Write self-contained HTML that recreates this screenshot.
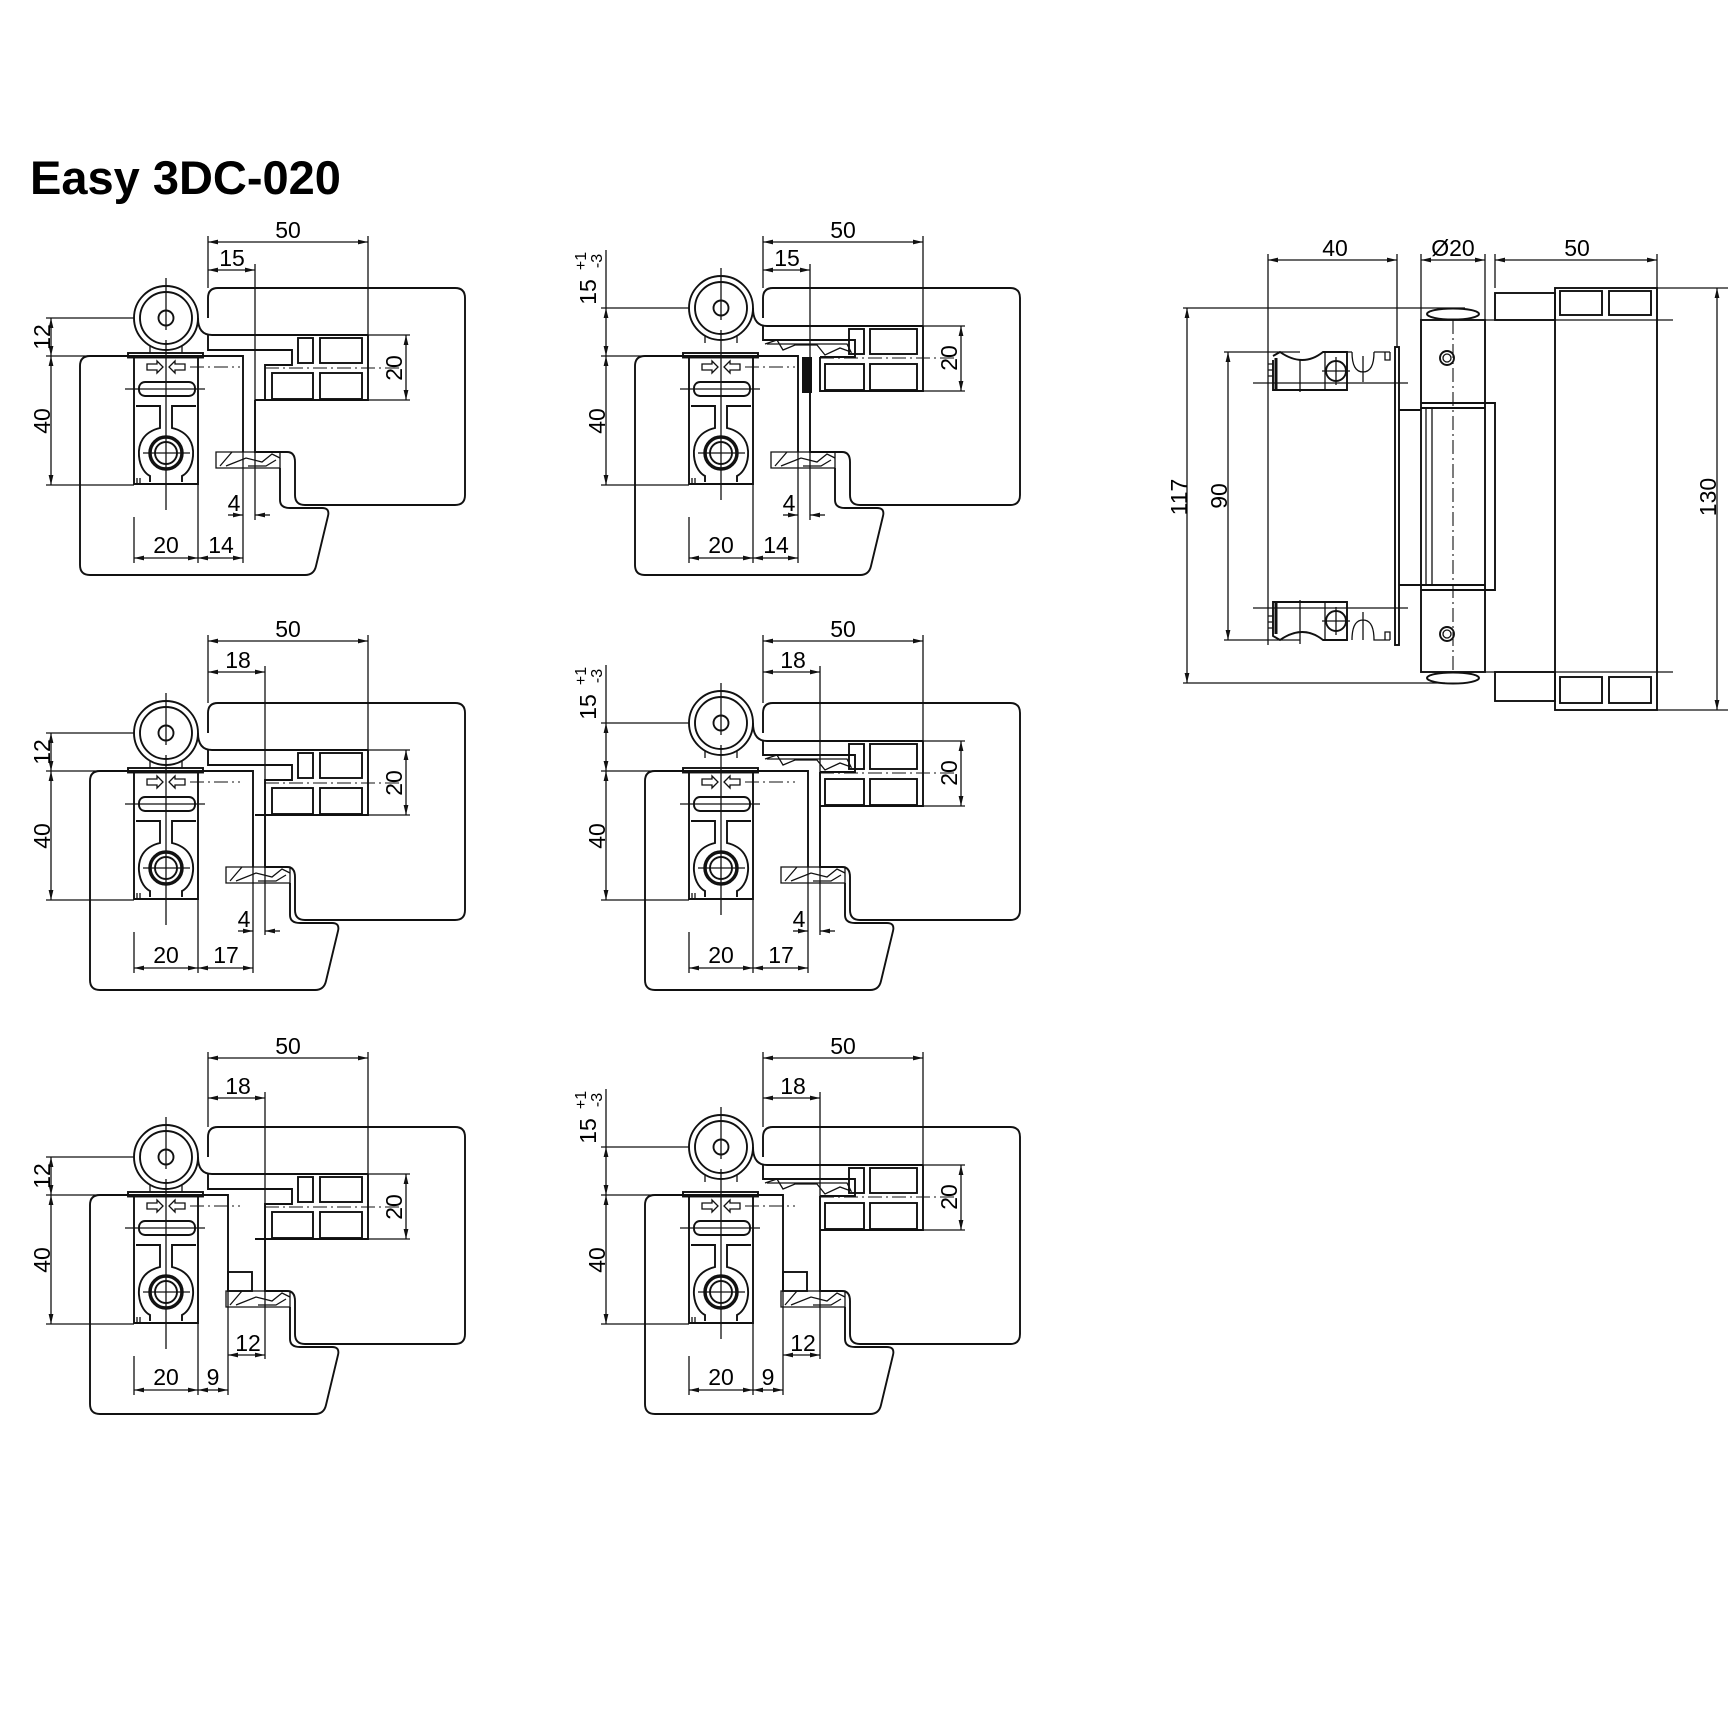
<!DOCTYPE html>
<html><head><meta charset="utf-8"><style>
html,body{margin:0;padding:0;background:#fff}
svg{display:block}
text{font-family:"Liberation Sans",Arial,sans-serif;fill:#000}
.o{fill:none;stroke:#111;stroke-width:1.9}
.t{fill:none;stroke:#111;stroke-width:1.3}
.d{fill:none;stroke:#111;stroke-width:1.3;marker-start:url(#ar);marker-end:url(#ar)}
.cl{fill:none;stroke:#111;stroke-width:1.1;stroke-dasharray:14 4 2 4}
.n{font-size:23px;text-anchor:middle}
.s{font-size:16px;text-anchor:middle}
</style></head><body>
<svg width="1733" height="1732" viewBox="0 0 1733 1732" xmlns="http://www.w3.org/2000/svg">
<defs>
<marker id="ar" viewBox="0 0 10 6" refX="10" refY="3" markerWidth="10" markerHeight="6" orient="auto-start-reverse" markerUnits="userSpaceOnUse"><path d="M0,0.6 L10,3 L0,5.4 Z" fill="#111"/></marker>
<g id="hb">
<rect x="128" y="353" width="75" height="4.5" class="o"/>
<path d="M134,358 L134,484 L198,484 L198,358" class="o"/>
<path d="M147,364 L157,364 L157,361 L163,367 L157,373 L157,370 L147,370 Z" class="t"/>
<path d="M185,364 L175,364 L175,361 L169,367 L175,373 L175,370 L185,370 Z" class="t"/>
<rect x="139" y="382" width="56" height="14" rx="6" class="o"/>
<path d="M136,406 L160,406 L160,428 C143,432 138,444 139,456 C140,468 146,474 150,476 L150,482" class="o"/>
<path d="M196,406 L172,406 L172,428 C189,432 194,444 193,456 C192,468 186,474 182,476 L182,482" class="o"/>
<circle cx="166" cy="453" r="16" fill="none" stroke="#111" stroke-width="3.5"/>
<circle cx="166" cy="453" r="11" class="o"/>
<path d="M137,478 L137,484 M140,478 L140,484" class="t"/>
<path d="M143,453 L190,453 M125,389 L205,389" class="t"/>
<path d="M190,367 L240,367" class="cl"/>
</g>
<g id="circ">
<circle cx="166" cy="318" r="32" class="o"/>
<circle cx="166" cy="318" r="26" class="o"/>
<circle cx="166" cy="318" r="7.5" class="o"/>
<path d="M150,346 L150,353 M182,346 L182,353" class="t"/>
<path d="M166,278 L166,330 M166,340 L166,510" class="t"/>
</g>
<g id="prof1">
<path d="M208,335 L208,350 L292,350 L292,365 L265,365 L265,400" class="o"/>
<path d="M255,400 L368,400 L368,335" class="o"/>
<rect x="298" y="338" width="15" height="25" class="o"/>
<rect x="320" y="338" width="42" height="25" class="o"/>
<rect x="272" y="373" width="41" height="26" class="o"/>
<rect x="320" y="373" width="42" height="26" class="o"/>
<path d="M265,368 L400,368" class="cl"/>
<path d="M198,318 Q198,335 212,335 L368,335" class="o"/>
<path d="M368,335 L410,335 M368,400 L410,400" class="t"/>
<path d="M406,335 L406,400" class="d"/>
</g>
<g id="prof2">
<path d="M208,326 L208,340 L300,340 L300,357 L265,357" class="o"/>
<path d="M210,344 L222,340 L228,350 L240,345 L262,345 L270,355 L285,348 L296,352 L292,344 L212,344" class="t"/>
<path d="M265,357 L265,391 L368,391 L368,326" class="o"/>
<rect x="294" y="329" width="15" height="25" class="o"/>
<rect x="315" y="329" width="47" height="25" class="o"/>
<rect x="270" y="364" width="39" height="26" class="o"/>
<rect x="315" y="364" width="47" height="26" class="o"/>
<path d="M265,358 L400,358" class="cl"/>
<path d="M198,308 Q198,326 212,326 L368,326" class="o"/>
<path d="M368,326 L410,326 M368,391 L410,391" class="t"/>
<path d="M406,326 L406,391" class="d"/>
</g>
<g id="frame">
<path d="M208,318 L208,298 Q208,288 218,288 L455,288 Q465,288 465,298 L465,495 Q465,505 455,505 L305,505 Q295,505 295,495 L295,462 Q295,452 287,452" class="o"/>
</g>
</defs>

<text x="30" y="194" style="font-size:47px;font-weight:bold">Easy 3DC-020</text>

<g>
<use href="#frame"/>
<path d="M287,452 L255,452 L255,400" class="o"/>
<use href="#prof1"/>
<use href="#circ"/>
<path d="M90,356 L243,356 L243,452 M280,468 L280,500 Q280,508 290,508 L322,508 Q330,508 328,516 L316,566 Q314,575 305,575 L90,575 Q80,575 80,565 L80,366 Q80,356 90,356" class="o"/>
<use href="#hb"/>
<path d="M216,452 L280,452 L280,468 L216,468 Z" class="t"/>
<path d="M220,466 L232,452 M226,466 L246,458 L262,462 L272,454 L280,458 M248,466 L266,466 L276,460" class="t"/>
<path d="M208,236 L208,288 M368,236 L368,335 M255,264 L255,520" class="t"/>
<path d="M208,242 L368,242" class="d"/><text class="n" x="288" y="238">50</text>
<path d="M208,270 L255,270" class="d"/><text class="n" x="232" y="266">15</text>
<text class="n" transform="translate(402,368) rotate(-90)">20</text>
<path d="M46,318 L134,318 M46,356 L128,356 M46,485 L134,485" class="t"/>
<path d="M51,318 L51,356" class="d"/><text class="n" transform="translate(50,337) rotate(-90)">12</text>
<path d="M51,356 L51,485" class="d"/><text class="n" transform="translate(50,421) rotate(-90)">40</text>
<path d="M134,517 L134,563 M198,484 L198,563 M243,452 L243,563" class="t"/>
<path d="M134,558 L198,558" class="d"/><path d="M198,558 L243,558" class="d"/>
<text class="n" x="166" y="553">20</text><text class="n" x="221" y="553">14</text>
<path d="M228,515 L243,515" class="t" marker-end="url(#ar)"/><path d="M270,515 L255,515" class="t" marker-end="url(#ar)"/>
<text class="n" x="234" y="511">4</text>
</g>

<g transform="translate(555,0)">
<use href="#frame"/>
<path d="M287,452 L255,452 L255,392" class="o"/>
<use href="#prof2"/>
<use href="#circ" transform="translate(0,-10)"/>
<rect x="247" y="357" width="10" height="36" fill="#111"/>
<path d="M90,356 L243,356 L243,452 M280,468 L280,500 Q280,508 290,508 L322,508 Q330,508 328,516 L316,566 Q314,575 305,575 L90,575 Q80,575 80,565 L80,366 Q80,356 90,356" class="o"/>
<use href="#hb"/>
<path d="M216,452 L280,452 L280,468 L216,468 Z" class="t"/>
<path d="M220,466 L232,452 M226,466 L246,458 L262,462 L272,454 L280,458 M248,466 L266,466 L276,460" class="t"/>
<path d="M208,236 L208,288 M368,236 L368,326 M255,264 L255,520" class="t"/>
<path d="M208,242 L368,242" class="d"/><text class="n" x="288" y="238">50</text>
<path d="M208,270 L255,270" class="d"/><text class="n" x="232" y="266">15</text>
<text class="n" transform="translate(402,358) rotate(-90)">20</text>
<path d="M46,308 L134,308 M46,356 L128,356 M46,485 L134,485 M51,250 L51,308" class="t"/>
<path d="M51,308 L51,356" class="d"/>
<text class="n" transform="translate(41,292) rotate(-90)">15</text>
<text class="s" transform="translate(31,261) rotate(-90)">+1</text>
<text class="s" transform="translate(47,261) rotate(-90)">-3</text>
<path d="M51,356 L51,485" class="d"/><text class="n" transform="translate(50,421) rotate(-90)">40</text>
<path d="M134,517 L134,563 M198,484 L198,563 M243,452 L243,563" class="t"/>
<path d="M134,558 L198,558" class="d"/><path d="M198,558 L243,558" class="d"/>
<text class="n" x="166" y="553">20</text><text class="n" x="221" y="553">14</text>
<path d="M228,515 L243,515" class="t" marker-end="url(#ar)"/><path d="M270,515 L255,515" class="t" marker-end="url(#ar)"/>
<text class="n" x="234" y="511">4</text>
</g>

<g transform="translate(0,415)">
<use href="#frame"/>
<path d="M287,452 L265,452 L265,400" class="o"/>
<use href="#prof1"/>
<use href="#circ"/>
<path d="M100,356 L253,356 L253,452 M290,468 L290,500 Q290,508 300,508 L332,508 Q340,508 338,516 L326,566 Q324,575 315,575 L100,575 Q90,575 90,565 L90,366 Q90,356 100,356" class="o"/>
<use href="#hb"/>
<path d="M226,452 L290,452 L290,468 L226,468 Z" class="t"/>
<path d="M230,466 L242,452 M236,466 L256,458 L272,462 L282,454 L290,458 M258,466 L276,466 L286,460" class="t"/>
<path d="M208,220 L208,288 M368,220 L368,335 M265,251 L265,520" class="t"/>
<path d="M208,226 L368,226" class="d"/><text class="n" x="288" y="222">50</text>
<path d="M208,257 L265,257" class="d"/><text class="n" x="238" y="253">18</text>
<text class="n" transform="translate(402,368) rotate(-90)">20</text>
<path d="M46,318 L134,318 M46,356 L128,356 M46,485 L134,485" class="t"/>
<path d="M51,318 L51,356" class="d"/><text class="n" transform="translate(50,337) rotate(-90)">12</text>
<path d="M51,356 L51,485" class="d"/><text class="n" transform="translate(50,421) rotate(-90)">40</text>
<path d="M134,517 L134,558 M198,484 L198,558 M253,452 L253,558" class="t"/>
<path d="M134,553 L198,553" class="d"/><path d="M198,553 L253,553" class="d"/>
<text class="n" x="166" y="548">20</text><text class="n" x="226" y="548">17</text>
<path d="M238,516 L253,516" class="t" marker-end="url(#ar)"/><path d="M280,516 L265,516" class="t" marker-end="url(#ar)"/>
<text class="n" x="244" y="512">4</text>
</g>

<g transform="translate(555,415)">
<use href="#frame"/>
<path d="M287,452 L265,452 L265,392" class="o"/>
<use href="#prof2"/>
<use href="#circ" transform="translate(0,-10)"/>
<path d="M100,356 L253,356 L253,452 M290,468 L290,500 Q290,508 300,508 L332,508 Q340,508 338,516 L326,566 Q324,575 315,575 L100,575 Q90,575 90,565 L90,366 Q90,356 100,356" class="o"/>
<use href="#hb"/>
<path d="M226,452 L290,452 L290,468 L226,468 Z" class="t"/>
<path d="M230,466 L242,452 M236,466 L256,458 L272,462 L282,454 L290,458 M258,466 L276,466 L286,460" class="t"/>
<path d="M208,220 L208,288 M368,220 L368,326 M265,251 L265,520" class="t"/>
<path d="M208,226 L368,226" class="d"/><text class="n" x="288" y="222">50</text>
<path d="M208,257 L265,257" class="d"/><text class="n" x="238" y="253">18</text>
<text class="n" transform="translate(402,358) rotate(-90)">20</text>
<path d="M46,308 L134,308 M46,356 L128,356 M46,485 L134,485 M51,250 L51,308" class="t"/>
<path d="M51,308 L51,356" class="d"/>
<text class="n" transform="translate(41,292) rotate(-90)">15</text>
<text class="s" transform="translate(31,261) rotate(-90)">+1</text>
<text class="s" transform="translate(47,261) rotate(-90)">-3</text>
<path d="M51,356 L51,485" class="d"/><text class="n" transform="translate(50,421) rotate(-90)">40</text>
<path d="M134,517 L134,558 M198,484 L198,558 M253,452 L253,558" class="t"/>
<path d="M134,553 L198,553" class="d"/><path d="M198,553 L253,553" class="d"/>
<text class="n" x="166" y="548">20</text><text class="n" x="226" y="548">17</text>
<path d="M238,516 L253,516" class="t" marker-end="url(#ar)"/><path d="M280,516 L265,516" class="t" marker-end="url(#ar)"/>
<text class="n" x="244" y="512">4</text>
</g>

<g transform="translate(0,839)">
<use href="#frame"/>
<path d="M287,452 L265,452 L265,400" class="o"/>
<use href="#prof1"/>
<use href="#circ"/>
<path d="M100,356 L228,356 L228,452 M290,468 L290,500 Q290,508 300,508 L332,508 Q340,508 338,516 L326,566 Q324,575 315,575 L100,575 Q90,575 90,565 L90,366 Q90,356 100,356" class="o"/>
<use href="#hb"/>
<rect x="228" y="433" width="24" height="19" class="o"/>
<path d="M226,452 L290,452 L290,468 L226,468 Z" class="t"/>
<path d="M230,466 L242,452 M236,466 L256,458 L272,462 L282,454 L290,458 M258,466 L276,466 L286,460" class="t"/>
<path d="M208,213 L208,288 M368,213 L368,335 M265,253 L265,520" class="t"/>
<path d="M208,219 L368,219" class="d"/><text class="n" x="288" y="215">50</text>
<path d="M208,259 L265,259" class="d"/><text class="n" x="238" y="255">18</text>
<text class="n" transform="translate(402,368) rotate(-90)">20</text>
<path d="M46,318 L134,318 M46,356 L128,356 M46,485 L134,485" class="t"/>
<path d="M51,318 L51,356" class="d"/><text class="n" transform="translate(50,337) rotate(-90)">12</text>
<path d="M51,356 L51,485" class="d"/><text class="n" transform="translate(50,421) rotate(-90)">40</text>
<path d="M134,517 L134,556 M198,484 L198,556 M228,452 L228,556" class="t"/>
<path d="M134,551 L198,551" class="d"/><path d="M198,551 L228,551" class="d"/>
<text class="n" x="166" y="546">20</text><text class="n" x="213" y="546">9</text>
<path d="M228,516 L265,516" class="d"/>
<text class="n" x="248" y="512">12</text>
</g>

<g transform="translate(555,839)">
<use href="#frame"/>
<path d="M287,452 L265,452 L265,392" class="o"/>
<use href="#prof2"/>
<use href="#circ" transform="translate(0,-10)"/>
<path d="M100,356 L228,356 L228,452 M290,468 L290,500 Q290,508 300,508 L332,508 Q340,508 338,516 L326,566 Q324,575 315,575 L100,575 Q90,575 90,565 L90,366 Q90,356 100,356" class="o"/>
<use href="#hb"/>
<rect x="228" y="433" width="24" height="19" class="o"/>
<path d="M226,452 L290,452 L290,468 L226,468 Z" class="t"/>
<path d="M230,466 L242,452 M236,466 L256,458 L272,462 L282,454 L290,458 M258,466 L276,466 L286,460" class="t"/>
<path d="M208,213 L208,288 M368,213 L368,326 M265,253 L265,520" class="t"/>
<path d="M208,219 L368,219" class="d"/><text class="n" x="288" y="215">50</text>
<path d="M208,259 L265,259" class="d"/><text class="n" x="238" y="255">18</text>
<text class="n" transform="translate(402,358) rotate(-90)">20</text>
<path d="M46,308 L134,308 M46,356 L128,356 M46,485 L134,485 M51,250 L51,308" class="t"/>
<path d="M51,308 L51,356" class="d"/>
<text class="n" transform="translate(41,292) rotate(-90)">15</text>
<text class="s" transform="translate(31,261) rotate(-90)">+1</text>
<text class="s" transform="translate(47,261) rotate(-90)">-3</text>
<path d="M51,356 L51,485" class="d"/><text class="n" transform="translate(50,421) rotate(-90)">40</text>
<path d="M134,517 L134,556 M198,484 L198,556 M228,452 L228,556" class="t"/>
<path d="M134,551 L198,551" class="d"/><path d="M198,551 L228,551" class="d"/>
<text class="n" x="166" y="546">20</text><text class="n" x="213" y="546">9</text>
<path d="M228,516 L265,516" class="d"/>
<text class="n" x="248" y="512">12</text>
</g>

<g>
<path d="M1268,254 L1268,645 M1397,254 L1397,347 M1421,254 L1421,320 M1485,254 L1485,320 M1495,254 L1495,288 M1657,254 L1657,288" class="t"/>
<path d="M1268,260 L1397,260" class="d"/><text class="n" x="1335" y="256">40</text>
<path d="M1421,260 L1485,260" class="d"/><text class="n" x="1453" y="256">Ø20</text>
<path d="M1495,260 L1657,260" class="d"/><text class="n" x="1577" y="256">50</text>
<rect x="1495" y="293" width="60" height="27" class="o"/>
<rect x="1555" y="288" width="102" height="422" class="o"/>
<rect x="1560" y="291" width="42" height="24" class="o"/>
<rect x="1609" y="291" width="42" height="24" class="o"/>
<rect x="1560" y="677" width="42" height="26" class="o"/>
<rect x="1609" y="677" width="42" height="26" class="o"/>
<rect x="1495" y="672" width="60" height="29" class="o"/>
<path d="M1657,288 L1728,288 M1657,710 L1728,710 M1485,320 L1673,320 M1485,672 L1673,672" class="t"/>
<path d="M1717,288 L1717,710" class="d"/><text class="n" transform="translate(1716,497) rotate(-90)">130</text>
<ellipse cx="1453" cy="314" rx="26" ry="5.5" class="o"/>
<ellipse cx="1453" cy="678" rx="26" ry="5.5" class="o"/>
<rect x="1421" y="320" width="64" height="352" class="o"/>
<path d="M1421,403 L1495,403 L1495,590 L1421,590 M1421,408 L1485,408 M1421,585 L1485,585" class="o"/>
<path d="M1426,408 L1426,585 M1432,408 L1432,585" class="t"/>
<path d="M1453,320 L1453,672" class="cl"/>
<circle cx="1447" cy="358" r="7" class="o"/><circle cx="1447" cy="358" r="4" class="t"/>
<circle cx="1447" cy="634" r="7" class="o"/><circle cx="1447" cy="634" r="4" class="t"/>
<rect x="1395" y="347" width="4" height="298" class="o"/>
<path d="M1399,410 L1421,410 M1399,585 L1421,585" class="o"/>
<path d="M1183,308 L1465,308 M1183,683 L1445,683" class="t"/>
<path d="M1187,308 L1187,683" class="d"/><text class="n" transform="translate(1187,497) rotate(-90)">117</text>
<path d="M1224,352 L1300,352 M1224,640 L1300,640" class="t"/>
<path d="M1228,352 L1228,640" class="d"/><text class="n" transform="translate(1227,496) rotate(-90)">90</text>
<path d="M1273,360 L1273,390 L1347,390 L1347,352 L1323,352 Q1303,368 1280,352 L1273,356" class="o"/>
<path d="M1276,358 L1276,390" stroke="#111" stroke-width="3"/>
<path d="M1325,352 L1325,390" class="t"/>
<circle cx="1336" cy="371" r="10" class="o"/>
<path d="M1336,357 L1336,385 M1322,371 L1350,371 M1300,360 L1300,392" class="t"/>
<path d="M1268,364 L1273,364 M1268,370 L1273,370 M1268,376 L1273,376" class="t"/>
<path d="M1347,352 L1352,352 M1352,352 Q1352,372 1363,372 Q1374,372 1374,352 M1363,356 L1363,382 M1374,352 L1390,352 M1385,352 L1385,360 L1390,360 L1390,352" class="t"/>
<path d="M1253,383 L1408,383" class="t"/>
<path d="M1273,602 L1347,602 L1347,640 L1323,640 Q1303,624 1280,640 L1273,636 Z" class="o"/>
<path d="M1276,602 L1276,634" stroke="#111" stroke-width="3"/>
<path d="M1325,602 L1325,640" class="t"/>
<circle cx="1336" cy="621" r="10" class="o"/>
<path d="M1336,607 L1336,635 M1322,621 L1350,621 M1300,600 L1300,644" class="t"/>
<path d="M1268,616 L1273,616 M1268,622 L1273,622 M1268,628 L1273,628" class="t"/>
<path d="M1352,640 Q1352,620 1363,620 Q1374,620 1374,640 L1390,640 M1363,612 L1363,640 M1385,640 L1385,632 L1390,632 L1390,640" class="t"/>
<path d="M1253,608 L1408,608" class="t"/>
</g>
</svg>
</body></html>
